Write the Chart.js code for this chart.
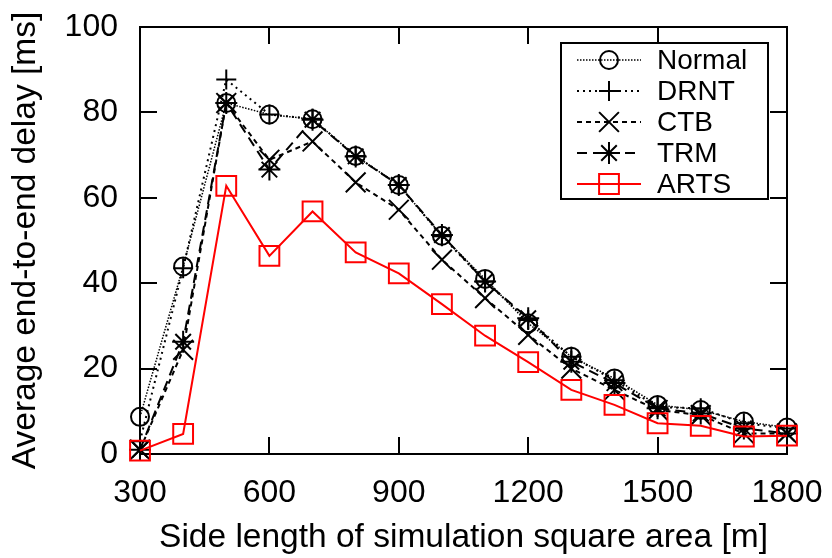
<!DOCTYPE html>
<html>
<head>
<meta charset="utf-8">
<script src="https://cdn.jsdelivr.net/npm/chart.js@4.4.1/dist/chart.umd.min.js"></script>
<style>
    html, body { margin: 0; padding: 0; background: #fff; }
</style>
</head>
<body>
<canvas id="grafico" width="832" height="558"></canvas>
<script>
// dados
const lados  = [300, 400, 500, 600, 700, 800, 900, 1000, 1100, 1200, 1300, 1400, 1500, 1600, 1700, 1800];
const normal = [8.7, 43.9, 82.2, 79.5, 78.4, 69.8, 63.0, 51.1, 41.0, 30.6, 22.8, 17.7, 11.5, 10.3, 7.6, 6.2];
const drnt   = [3.0, 43.5, 87.7, 79.5, 78.5, 69.8, 63.0, 51.0, 40.4, 31.4, 22.8, 17.3, 11.0, 10.7, 7.2, 6.0];
const ctb    = [1.0, 24.4, 82.2, 68.9, 73.2, 63.6, 57.2, 45.5, 36.5, 27.9, 20.0, 15.0, 10.3, 9.1, 4.8, 4.8];
const trm    = [1.0, 26.3, 82.2, 66.6, 78.3, 69.7, 63.0, 51.3, 40.4, 31.8, 21.6, 16.6, 10.7, 9.5, 6.0, 4.8];
const arts   = [0.8, 4.7, 62.8, 46.4, 56.8, 47.2, 42.3, 35.1, 27.7, 21.5, 15.0, 11.5, 7.2, 6.6, 4.1, 4.3];

const xTicks = [300, 600, 900, 1200, 1500, 1800];
const yTicks = [0, 20, 40, 60, 80, 100];

const fonte = "'Liberation Sans', Arial, Helvetica, sans-serif";

function pontos(valores) {
    return lados.map((x, i) => ({ x: x, y: valores[i] }));
}

function serie(nome, valores, cor, dash, largura, estilo, raio, ordem) {
    return {
        label: nome,
        data: pontos(valores),
        borderColor: cor,
        borderWidth: largura,
        borderDash: dash,
        pointStyle: estilo,
        pointRadius: raio,
        pointHoverRadius: raio,
        pointBorderColor: cor,
        pointBackgroundColor: "rgba(0,0,0,0)",
        pointBorderWidth: 2,
        fill: false,
        tension: 0,
        clip: false,
        order: ordem
    };
}

// moldura com ticks para dentro (estilo gnuplot)
const moldura = {
    id: "moldura",
    beforeDatasetsDraw(chart) {
        const ctx = chart.ctx;
        const a = chart.chartArea;
        const sx = chart.scales.x, sy = chart.scales.y;
        const tam = 17;
        ctx.save();
        ctx.strokeStyle = "#000";
        ctx.lineWidth = 2;
        ctx.setLineDash([]);
        ctx.strokeRect(a.left, a.top, a.right - a.left, a.bottom - a.top);
        ctx.beginPath();
        for (const v of yTicks.slice(1, -1)) {
            const y = Math.round(sy.getPixelForValue(v));
            ctx.moveTo(a.left, y); ctx.lineTo(a.left + tam, y);
            ctx.moveTo(a.right, y); ctx.lineTo(a.right - tam, y);
        }
        for (const v of xTicks.slice(1, -1)) {
            const x = Math.round(sx.getPixelForValue(v));
            ctx.moveTo(x, a.bottom); ctx.lineTo(x, a.bottom - tam);
            ctx.moveTo(x, a.top); ctx.lineTo(x, a.top + tam);
        }
        ctx.stroke();
        ctx.restore();
    }
};

// legenda dentro da área do gráfico
const legenda = {
    id: "legenda",
    afterDatasetsDraw(chart) {
        const ctx = chart.ctx;
        const a = chart.chartArea;
        const larg = 207, alt = 156;
        const x0 = a.right - 19 - larg;
        const y0 = a.top + 16;
        ctx.save();
        ctx.fillStyle = "#fff";
        ctx.fillRect(x0, y0, larg, alt);
        ctx.strokeStyle = "#000";
        ctx.lineWidth = 2;
        ctx.setLineDash([]);
        ctx.strokeRect(x0, y0, larg, alt);

        chart.data.datasets.forEach((ds, i) => {
            const cy = y0 + 17 + i * 31;
            ctx.strokeStyle = ds.borderColor;
            ctx.lineWidth = ds.borderWidth;
            ctx.setLineDash(ds.borderDash);
            ctx.beginPath();
            ctx.moveTo(x0 + 16, cy);
            ctx.lineTo(x0 + 80, cy);
            ctx.stroke();
            ctx.setLineDash([]);
            ctx.lineWidth = 2;
            ctx.fillStyle = "rgba(0,0,0,0)";
            Chart.helpers.drawPoint(ctx, { pointStyle: ds.pointStyle, radius: ds.pointRadius, rotation: 0, borderWidth: 2 }, x0 + 48, cy);
            ctx.fillStyle = "#000";
            ctx.font = "28px " + fonte;
            ctx.textBaseline = "middle";
            ctx.textAlign = "left";
            ctx.fillText(ds.label, x0 + 96, cy + 1);
        });
        ctx.restore();
    }
};

new Chart(document.getElementById("grafico"), {
    type: "line",
    data: {
        datasets: [
            serie("Normal", normal, "#000", [1.5, 1.5], 1.5, "circle", 9, 5),
            serie("DRNT", drnt, "#000", [2, 4], 2, "cross", 10, 4),
            serie("CTB", ctb, "#000", [5, 4], 2, "crossRot", 14, 3),
            serie("TRM", trm, "#000", [10, 6], 2, "star", 11, 2),
            serie("ARTS", arts, "#ff0000", [], 2, "rect", 14, 1)
        ]
    },
    options: {
        responsive: false,
        animation: false,
        devicePixelRatio: 1,
        layout: { padding: { top: 27, right: 45, left: 0, bottom: 0 } },
        plugins: {
            legend: { display: false },
            tooltip: { enabled: false }
        },
        scales: {
            x: {
                type: "linear",
                min: 300,
                max: 1800,
                afterFit: s => { s.height = 104; s.paddingLeft = 0; s.paddingRight = 0; },
                afterBuildTicks: s => { s.ticks = xTicks.map(v => ({ value: v })); },
                grid: { display: false, drawTicks: false },
                border: { display: false },
                ticks: { color: "#000", font: { family: fonte, size: 32 }, padding: 20, maxRotation: 0, callback: v => String(v) },
                title: { display: true, text: "Side length of simulation square area [m]", color: "#000", font: { family: fonte, size: 33.5 }, padding: { top: 0, bottom: 0 } }
            },
            y: {
                min: 0,
                max: 100,
                afterFit: s => { s.width = 140; s.paddingTop = 0; s.paddingBottom = 0; },
                afterBuildTicks: s => { s.ticks = yTicks.map(v => ({ value: v })); },
                grid: { display: false, drawTicks: false },
                border: { display: false },
                ticks: { color: "#000", font: { family: fonte, size: 32 }, padding: 22, callback: v => String(v) },
                title: { display: true, text: "Average end-to-end delay [ms]", color: "#000", font: { family: fonte, size: 33.5 }, padding: { top: 6, bottom: 0 } }
            }
        }
    },
    plugins: [moldura, legenda]
});
</script>
</body>
</html>
